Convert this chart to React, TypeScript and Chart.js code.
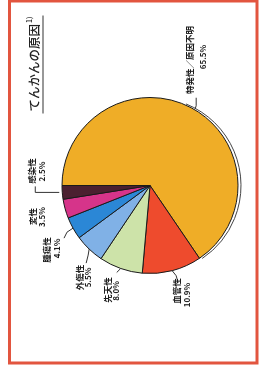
import React, { useEffect, useRef } from "react";
import { Chart, ArcElement, PieController } from "chart.js";

Chart.register(ArcElement, PieController);

const categories = ["特発性／原因不明", "血管性", "先天性", "外傷性", "腫瘍性", "変性", "感染性"];
const values = [65.5, 10.9, 8.0, 5.5, 4.1, 3.5, 2.5];
const valueLabels = ["65.5%", "10.9%", "8.0%", "5.5%", "4.1%", "3.5%", "2.5%"];
const sliceColors = ["#efad27", "#ee4b2d", "#cde3a9", "#80b1e6", "#2b87d6", "#d6348a", "#4b2030"];
const titleText = "てんかんの原因";
const titleNote = "1)";

// layout: label offsets relative to each slice's mid-edge point (unrotated frame)
const labelLayout = [
  { name: [47.7, -1.2], pct: [50.7, 12], leader: [[-1, 4], [2, 5], [10, 5]] },
  { name: [-20.3, 4.8], pct: [-24.3, 14.8], leader: [[0, 0], [-5, 4], [-12, 6]] },
  { name: [-21.5, -12.8], pct: [-22.5, -4.8], leader: [[0, 0], [-4, -4]] },
  { name: [-28.4, -9.2], pct: [-28.4, -1.2], leader: [[0, 0], [-6, -1], [-14, -3]] },
  { name: [-21.8, -26], pct: [-20.3, -16], leader: [[0, 0], [-4, -6], [-10, -9]] },
  { name: [-7.8, -32.1], pct: [-8.3, -23.1], leader: [] },
  { name: [21.4, -30.3], pct: [20.9, -20.3], leader: [[0, -3], [0, -27], [6, -27]] },
];

const W = 371;
const H = 260;
const FONT = '"Noto Sans CJK JP", "Noto Sans", sans-serif';

const overlay = {
  id: "overlay",
  beforeDraw(chart: any) {
    const ctx = chart.ctx;
    ctx.save();
    ctx.fillStyle = "#ffffff";
    ctx.fillRect(0, 0, chart.width, chart.height);
    ctx.strokeStyle = "#e2553f";
    ctx.lineWidth = 3;
    ctx.strokeRect(8, 9.5, 362, 247.5);
    ctx.restore();
  },
  beforeDatasetsDraw(chart: any) {
    // thin shadow edge of the pie (3D rim)
    const meta = chart.getDatasetMeta(0);
    const arc: any = meta.data[0];
    if (!arc) return;
    const p = arc.getProps(["x", "y", "outerRadius"], true);
    const ctx = chart.ctx;
    ctx.save();
    ctx.strokeStyle = "#444";
    ctx.lineWidth = 1;
    ctx.beginPath();
    ctx.arc(p.x, p.y + 3, p.outerRadius, (22 * Math.PI) / 180, (146 * Math.PI) / 180);
    ctx.stroke();
    ctx.restore();
  },
  afterDraw(chart: any) {
    const ctx = chart.ctx;
    ctx.save();
    // title
    ctx.fillStyle = "#222";
    ctx.font = `500 12.5px ${FONT}`;
    ctx.textBaseline = "middle";
    ctx.textAlign = "left";
    const tw = ctx.measureText(titleText).width;
    ctx.font = `500 7px ${FONT}`;
    const nw = ctx.measureText(titleNote).width;
    const total = tw + nw + 1;
    const tx = 307 - total / 2;
    ctx.font = `500 12.5px ${FONT}`;
    ctx.fillText(titleText, tx, 34);
    ctx.font = `500 7px ${FONT}`;
    ctx.fillText(titleNote, tx + tw + 1, 29);
    ctx.strokeStyle = "#333";
    ctx.lineWidth = 1.2;
    ctx.beginPath();
    ctx.moveTo(tx - 2, 43);
    ctx.lineTo(tx + total + 1, 43);
    ctx.stroke();

    const meta = chart.getDatasetMeta(0);
    meta.data.forEach((arc: any, i: number) => {
      const p = arc.getProps(["x", "y", "startAngle", "endAngle", "outerRadius"], true);
      const mid = (p.startAngle + p.endAngle) / 2;
      const ex = p.x + Math.cos(mid) * p.outerRadius;
      const ey = p.y + Math.sin(mid) * p.outerRadius;
      const lay = labelLayout[i];
      if (lay.leader.length > 1) {
        ctx.strokeStyle = "#333";
        ctx.lineWidth = 1;
        ctx.beginPath();
        lay.leader.forEach((pt: number[], k: number) => {
          if (k === 0) ctx.moveTo(ex + pt[0], ey + pt[1]);
          else ctx.lineTo(ex + pt[0], ey + pt[1]);
        });
        ctx.stroke();
      }
      ctx.fillStyle = "#1e1e1e";
      ctx.textAlign = "center";
      ctx.textBaseline = "middle";
      ctx.font = `bold 8.5px ${FONT}`;
      ctx.fillText(categories[i], ex + lay.name[0], ey + lay.name[1]);
      ctx.font = `bold 8px ${FONT}`;
      ctx.fillText(valueLabels[i], ex + lay.pct[0], ey + lay.pct[1]);
    });
    ctx.restore();
  },
};

export default function App() {
  const ref = useRef<HTMLCanvasElement>(null);
  useEffect(() => {
    if (!ref.current) return;
    const chart = new Chart(ref.current, {
      type: "pie",
      data: {
        labels: categories,
        datasets: [
          {
            data: values,
            backgroundColor: sliceColors,
            borderColor: "#1a1a1a",
            borderWidth: 1,
          },
        ],
      },
      options: {
        responsive: false,
        animation: false,
        radius: 88,
        rotation: 0,
        layout: { padding: { left: 97.5, right: 97.5, top: 62, bottom: 22 } },
        plugins: {
          legend: { display: false },
          tooltip: { enabled: false },
        },
      } as any,
      plugins: [overlay],
    });
    return () => chart.destroy();
  }, []);

  return (
    <div
      style={{
        position: "fixed",
        left: 0,
        top: 0,
        width: 260,
        height: 371,
        overflow: "hidden",
        background: "#fff",
      }}
    >
      <div
        style={{
          position: "absolute",
          left: 0,
          top: 0,
          width: W,
          height: H,
          transformOrigin: "0 0",
          transform: `translateY(${W}px) rotate(-90deg)`,
        }}
      >
        <canvas ref={ref} width={W} height={H} style={{ display: "block", width: W, height: H }} />
      </div>
    </div>
  );
}
